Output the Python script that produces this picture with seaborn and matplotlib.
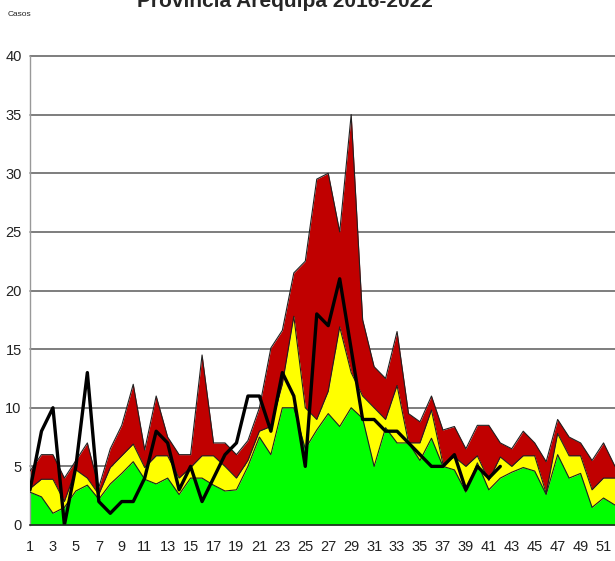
import numpy as np
import pandas as pd
import matplotlib
matplotlib.use("Agg")
import matplotlib.pyplot as plt
import seaborn as sns

# ---- data ----
weeks = list(range(1, 53))
exito = [2.8, 2.4, 1.0, 1.5, 2.9, 3.4, 2.2, 3.5, 4.4, 5.4,
         3.9, 3.5, 4.0, 2.6, 4.0, 4.0, 3.4, 2.9, 3.0, 5.0,
         7.5, 6.0, 10.0, 10.0, 6.5, 8.1, 9.5, 8.4, 10.0, 9.1,
         5.0, 8.3, 7.0, 7.0, 5.5, 7.4, 5.0, 4.7, 2.8, 5.3,
         3.0, 4.0, 4.5, 4.9, 4.6, 2.6, 6.0, 4.0, 4.4, 1.5,
         2.3, 1.7]
seguridad = [3.1, 3.9, 3.9, 2.0, 4.7, 4.0, 2.6, 4.9, 5.9, 6.9,
             4.9, 5.9, 5.9, 4.0, 4.9, 5.9, 5.9, 5.0, 4.0, 5.5,
             8.0, 8.4, 12.0, 17.8, 10.0, 9.0, 11.4, 16.9, 13.0, 11.0,
             10.0, 9.0, 11.9, 7.0, 7.0, 9.8, 5.2, 5.8, 5.0, 5.9,
             3.8, 5.8, 5.0, 5.9, 5.9, 2.7, 7.8, 5.9, 5.9, 3.0,
             4.0, 4.0]
alarma = [4.6, 6.0, 6.0, 4.0, 5.5, 7.0, 3.2, 6.5, 8.5, 12.0,
          6.4, 11.0, 7.5, 6.0, 6.0, 14.5, 7.0, 7.0, 6.0, 7.2,
          10.0, 15.1, 16.6, 21.5, 22.5, 29.5, 30.0, 25.0, 35.0, 17.5,
          13.5, 12.5, 16.5, 9.5, 8.8, 11.0, 8.1, 8.4, 6.5, 8.5,
          8.5, 7.0, 6.5, 8.0, 7.0, 5.4, 9.0, 7.5, 7.0, 5.5,
          7.0, 5.0]
weeks_2022 = list(range(1, 43))
casos_2022 = [3, 8, 10, 0, 5, 13, 2, 1, 2, 2,
              4, 8, 7, 3, 5, 2, 4, 6, 7, 11,
              11, 8, 13, 11, 5, 18, 17, 21, 15, 9,
              9, 8, 8, 7, 6, 5, 5, 6, 3, 5,
              4, 5]
y_ticks = [0, 5, 10, 15, 20, 25, 30, 35, 40]
title = "Provincia Arequipa 2016-2022"

bands = pd.DataFrame({"semana": weeks, "exito": exito,
                      "seguridad": seguridad, "alarma": alarma})
cur = pd.DataFrame({"semana": weeks_2022, "casos": casos_2022})

sns.set_style("white")
plt.rcParams["font.family"] = ["Liberation Sans", "DejaVu Sans"]

fig = plt.figure(figsize=(6.15, 5.61), dpi=100)
ax = fig.add_axes([30 / 615, 1 - 525 / 561, 1 - 30 / 615, (525 - 56) / 561])

x = bands["semana"].values
ax.fill_between(x, bands["seguridad"], bands["alarma"], color="#C00000", lw=0, zorder=2)
ax.fill_between(x, bands["exito"], bands["seguridad"], color="#FFFF00", lw=0, zorder=2)
ax.fill_between(x, 0, bands["exito"], color="#00FF00", lw=0, zorder=2)
for col in ["alarma", "seguridad", "exito"]:
    sns.lineplot(data=bands, x="semana", y=col, ax=ax, color="#202020",
                 lw=0.8, zorder=3, legend=False)
sns.lineplot(data=cur, x="semana", y="casos", ax=ax, color="black",
             lw=2.4, zorder=4, legend=False)

# grid lines
for yv in y_ticks[1:]:
    ax.axhline(yv, color="#5a5a5a", lw=1.1, zorder=1, clip_on=False)

ax.set_xlim(1, 1 + (615 - 30) / 11.52)
ax.set_ylim(0, 40)
ax.set_yticks(y_ticks)
ax.set_yticklabels([str(v) for v in y_ticks], fontsize=10.5, color="#222222")
ax.set_xticks(weeks)
ax.set_xticklabels([str(w) if w % 2 == 1 else "" for w in weeks], fontsize=10.5, color="#222222")
ax.tick_params(axis="both", direction="out", length=3, width=0.8, color="#888888")
ax.tick_params(axis="x", pad=8)
ax.tick_params(axis="y", pad=3)
ax.set_xlabel("")
ax.set_ylabel("")
for s in ["top", "right"]:
    ax.spines[s].set_visible(False)
ax.spines["left"].set_color("#999999")
ax.spines["left"].set_linewidth(1.0)
ax.spines["bottom"].set_color("#222222")
ax.spines["bottom"].set_linewidth(1.2)
ax.spines["bottom"].set_zorder(5)

fig.text(8 / 615, 1 - 15 / 561, "Casos", fontsize=6, ha="left", va="center", color="#222222")
fig.text(285 / 615, 1 - 7 / 561, title, fontsize=15, fontweight="bold",
         ha="center", va="baseline")

fig.savefig("out.png", dpi=100)
